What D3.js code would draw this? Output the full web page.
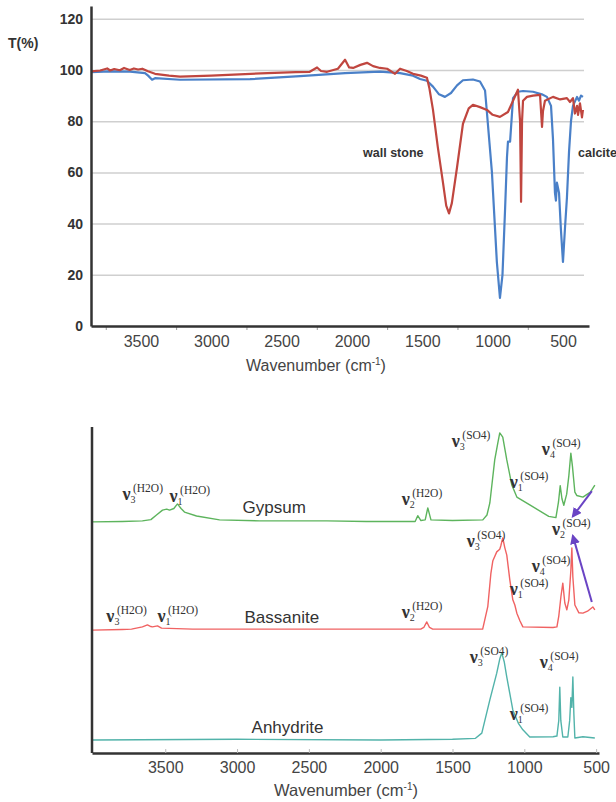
<!DOCTYPE html>
<meta charset="utf-8">
<title>IR spectra</title>
<style>
  body { margin: 0; background: #fff; }
  svg { display: block; font-family: "Liberation Sans", Arial, sans-serif; }
  .grid line { stroke: #cfcfcf; stroke-width: 1.5; }
  .grid .domain { display: none; }
  .ylab text { font-weight: bold; font-size: 14px; fill: #333; }
  .xlab text { font-size: 16px; fill: #444; }
  .axisline { stroke: #333; stroke-width: 2.5; fill: none; }
  .minor line { stroke: #999; stroke-width: 1; }
  .spec { fill: none; stroke-linejoin: round; }
  .nu { font-family: "Liberation Serif", "Times New Roman", serif; fill: #333; }
  .name { font-size: 17px; fill: #333; }
</style>
<body></body>
<script src="https://cdn.jsdelivr.net/npm/d3@7"></script>
<script>
// ---- top chart data (wavenumber cm-1, T %) ----
var blueWn = [3854, 3719, 3577, 3471, 3449, 3421, 3400, 3222, 2724, 2369, 2049, 1801, 1658, 1566, 1516, 1467, 1424, 1381, 1339, 1296, 1253, 1211, 1140, 1090, 1054, 1040, 1005, 985, 970, 948, 930, 912, 898, 891, 876, 855, 820, 784, 713, 650, 614, 585, 571, 557, 550, 543, 528, 515, 500, 486, 472, 457, 443, 429, 400, 386, 372, 358];
var blueT  = [99.2, 99.5, 99.4, 98.8, 97.8, 96.2, 96.8, 96.2, 96.4, 97.6, 98.8, 99.4, 98.8, 97.8, 96.5, 95.8, 93.5, 90.5, 89.5, 91, 94, 96, 96.3, 95.5, 92, 83, 60, 40, 25, 11, 20, 45, 66, 72, 72, 89, 91.5, 91.8, 91.5, 90.5, 89.5, 86, 73, 52, 49, 56, 52, 38, 25, 38, 50, 68, 80, 86, 89.5, 88, 90, 89.5];

var redWn = [3854, 3790, 3740, 3719, 3690, 3650, 3620, 3580, 3550, 3520, 3490, 3450, 3400, 3300, 3222, 3000, 2800, 2600, 2400, 2300, 2248, 2220, 2177, 2100, 2049, 2020, 1992, 1940, 1893, 1850, 1801, 1750, 1694, 1658, 1610, 1566, 1510, 1467, 1450, 1424, 1390, 1353, 1330, 1310, 1290, 1253, 1211, 1170, 1140, 1090, 1040, 1000, 948, 891, 855, 820, 805, 798, 791, 784, 756, 713, 663, 656, 649, 642, 628, 571, 520, 472, 450, 429, 415, 400, 393, 379, 365, 358];
var redT  = [99.5, 99.8, 100.6, 99.8, 100.4, 99.9, 100.8, 100, 100.6, 100.2, 100.5, 99.5, 98.5, 97.8, 97.4, 97.8, 98.3, 98.8, 99.2, 99.3, 101, 99.6, 99.3, 100.5, 104, 101, 100.8, 102, 102.8, 101.5, 100.8, 100.5, 98.5, 100.5, 99.6, 98.5, 97.8, 97, 93, 84.4, 70, 56, 47, 44, 48, 62, 79, 85, 86.4, 85.5, 84.4, 82.5, 81.7, 83.6, 88, 92.3, 80, 48.5, 80, 88, 89.5, 90, 90.3, 84, 77.8, 84, 88, 89.5, 88.5, 89, 87.5, 89, 83, 86, 82.5, 87, 81.5, 84.4];

var topYTicks = [0, 20, 40, 60, 80, 100, 120];
var topXTicks = [3500, 3000, 2500, 2000, 1500, 1000, 500];
var topXMinor = [3750, 3250, 2750, 2250, 1750, 1250, 750];

// ---- bottom chart data (wavenumber, stacked absorbance, arb. units) ----
var gypWn = [4007, 3800, 3659, 3600, 3561, 3519, 3490, 3470, 3440, 3415, 3390, 3366, 3282, 3122, 2843, 2376, 2100, 1800, 1760, 1742, 1720, 1690, 1672, 1650, 1500, 1289, 1260, 1240, 1206, 1185, 1171, 1150, 1122, 1087, 1052, 962, 830, 780, 762, 750, 738, 725, 705, 690, 676, 665, 648, 635, 592, 540, 509];
var gypA  = [70.9, 71.0, 71.2, 71.6, 73, 74.5, 74.8, 74.5, 75, 76.4, 75, 73.9, 72.7, 71.5, 71.2, 71.2, 71.0, 71.0, 71, 72.8, 71.3, 71.5, 75.2, 71.5, 71.3, 71.5, 73, 76.7, 89.9, 95, 98.2, 96.9, 89.9, 82.2, 78.5, 76.1, 72.6, 72.2, 77, 82, 78, 76, 79.4, 85, 92, 88, 80, 79, 78.5, 80, 82.2];

var basWn = [4007, 3800, 3735, 3659, 3624, 3600, 3589, 3554, 3526, 3310, 2500, 1721, 1700, 1679, 1660, 1638, 1290, 1254, 1233, 1219, 1192, 1171, 1164, 1150, 1136, 1122, 1101, 1080, 1066, 1052, 1030, 1010, 800, 773, 760, 745, 732, 718, 704, 690, 676, 669, 662, 648, 620, 592, 560, 523, 509];
var basA  = [37.7, 37.9, 38, 38.7, 39.3, 38.8, 38.7, 39, 38.3, 38, 38, 38, 38.5, 40.2, 38.5, 38, 38, 45, 55, 59, 61.7, 62.5, 63.5, 66, 63, 60.7, 53.1, 47, 45.4, 42.9, 40.5, 38.7, 38.5, 38.7, 42, 48, 52.1, 46, 43.9, 47, 56, 62.9, 54, 45.4, 43, 42.9, 43.5, 44.8, 43.9];

var anhWn = [4007, 3000, 2000, 1500, 1340, 1296, 1240, 1192, 1170, 1157, 1140, 1122, 1080, 1040, 1010, 962, 800, 773, 760, 753, 746, 732, 697, 684, 676, 669, 662, 655, 648, 592, 509];
var anhA  = [4, 4.2, 4.0, 4.2, 4.5, 6.1, 16.3, 24.5, 29, 30.7, 28, 23.3, 13.2, 9, 7.1, 4.9, 5, 5.2, 10, 20.2, 10, 4.9, 4.9, 10, 17, 14, 23.3, 12, 4.6, 5, 4.6];

var botXTicks = [3500, 3000, 2500, 2000, 1500, 1000, 500];

// annotation anchors in data units: [sub, sup, wavenumber, level]
var gypBands = [["3", "(H2O)", 3798, 77.6], ["1", "(H2O)", 3470, 77], ["2", "(H2O)", 1854, 76.1],
                ["3", "(SO4)", 1505, 93.9], ["1", "(SO4)", 1101, 81.3], ["4", "(SO4)", 878, 91.4], ["2", "(SO4)", 808, 66.9]];
var basBands = [["3", "(H2O)", 3910, 40.2], ["1", "(H2O)", 3554, 40.2], ["2", "(H2O)", 1854, 41.4],
                ["3", "(SO4)", 1401, 63.2], ["4", "(SO4)", 948, 55.5], ["1", "(SO4)", 1101, 48.5]];
var anhBands = [["3", "(SO4)", 1380, 27.6], ["4", "(SO4)", 892, 26.1], ["1", "(SO4)", 1101, 10.1]];
var names = [["Gypsum", 2962, 73.6], ["Bassanite", 2948, 39.9], ["Anhydrite", 2899, 6.1]];
// arrows to nu2(SO4): [fromWn, fromA, toWn, toA]
var arrows = [[530, 80.3, 662, 72.6], [530, 46.3, 662, 66.6]];

var svg = d3.select("body").append("svg").attr("width", 616).attr("height", 802);
var fmt = d3.format("d");

// ================= top chart =================
var xTop = d3.scaleLinear().domain([3855, 315]).range([91, 589]);
var yTop = d3.scaleLinear().domain([0, 125]).range([326, 6]);
var gTop = svg.append("g");

gTop.append("g").attr("class", "grid")
  .attr("transform", "translate(91,0)")
  .call(d3.axisLeft(yTop).tickValues([20, 40, 60, 80, 100, 120]).tickSize(-493).tickFormat(""));

gTop.append("g").attr("class", "minor")
  .attr("transform", "translate(0,326)")
  .call(d3.axisBottom(xTop).tickValues(topXMinor).tickSize(4).tickFormat(""))
  .select(".domain").remove();

var lineTop = function(wn, t) {
  return d3.line().x(function(d, i) { return xTop(wn[i]); }).y(function(d) { return yTop(d); })(t);
};
gTop.append("path").attr("class", "spec").attr("d", lineTop(blueWn, blueT))
  .attr("stroke", "#4a80c8").attr("stroke-width", 2.2);
gTop.append("path").attr("class", "spec").attr("d", lineTop(redWn, redT))
  .attr("stroke", "#c0463f").attr("stroke-width", 2.2);

var yAx = gTop.append("g").attr("class", "ylab")
  .attr("transform", "translate(91,0)")
  .call(d3.axisLeft(yTop).tickValues(topYTicks).tickSize(0).tickPadding(8).tickSizeOuter(0));
yAx.select(".domain").attr("class", "axisline");

var xAx = gTop.append("g").attr("class", "xlab")
  .attr("transform", "translate(0,326)")
  .call(d3.axisBottom(xTop).tickValues(topXTicks).tickFormat(fmt).tickSize(0).tickPadding(10).tickSizeOuter(0));
xAx.select(".domain").attr("class", "axisline");

gTop.append("text").attr("x", 8).attr("y", 48).attr("font-weight", "bold").attr("font-size", 14)
  .attr("fill", "#333").text("T(%)");

var xt = gTop.append("text").attr("x", 316).attr("y", 371).attr("text-anchor", "middle")
  .attr("font-size", 16).attr("fill", "#444");
xt.append("tspan").text("Wavenumber (cm");
xt.append("tspan").attr("font-size", 10).attr("dy", -6).text("-1");
xt.append("tspan").attr("dy", 6).text(")");

gTop.append("text").attr("x", xTop(1921)).attr("y", yTop(66)).attr("font-weight", "bold")
  .attr("font-size", 12.5).attr("fill", "#333").text("wall stone");
gTop.append("text").attr("x", xTop(393)).attr("y", yTop(66)).attr("font-weight", "bold")
  .attr("font-size", 12.5).attr("fill", "#333").text("calcite");

// ================= bottom chart =================
var xBot = d3.scaleLinear().domain([4010, 480]).range([92, 599]);
var yBot = d3.scaleLinear().domain([0, 100]).range([753, 427]);
var gBot = svg.append("g");

var lineBot = function(wn, a) {
  return d3.line().x(function(d, i) { return xBot(wn[i]); }).y(function(d) { return yBot(d); })(a);
};
gBot.append("path").attr("class", "spec").attr("d", lineBot(gypWn, gypA))
  .attr("stroke", "#5db45d").attr("stroke-width", 1.4);
gBot.append("path").attr("class", "spec").attr("d", lineBot(basWn, basA))
  .attr("stroke", "#f06262").attr("stroke-width", 1.4);
gBot.append("path").attr("class", "spec").attr("d", lineBot(anhWn, anhA))
  .attr("stroke", "#52b3aa").attr("stroke-width", 1.4);

var bx = gBot.append("g").attr("class", "xlab")
  .attr("transform", "translate(0,753)")
  .call(d3.axisBottom(xBot).tickValues(botXTicks).tickFormat(fmt).tickSize(-4).tickPadding(9).tickSizeOuter(0));
bx.selectAll(".tick line").attr("stroke", "#bbb");
bx.selectAll(".tick text").attr("font-size", 16.5);
bx.select(".domain").attr("class", "axisline").attr("stroke-width", 3);

gBot.append("line").attr("class", "axisline")
  .attr("x1", 92).attr("x2", 92).attr("y1", yBot(100)).attr("y2", yBot(0));

var bt = gBot.append("text").attr("x", 346).attr("y", 796).attr("text-anchor", "middle")
  .attr("font-size", 16.5).attr("fill", "#444");
bt.append("tspan").text("Wavenumber (cm");
bt.append("tspan").attr("font-size", 10).attr("dy", -6).text("-1");
bt.append("tspan").attr("dy", 6).text(")");

function nu(b) {
  var t = gBot.append("text").attr("class", "nu").attr("x", xBot(b[2])).attr("y", yBot(b[3]));
  t.append("tspan").attr("font-size", 18).attr("font-weight", "bold").text("ν");
  t.append("tspan").attr("font-size", 10).attr("dy", 3).text(b[0]);
  t.append("tspan").attr("font-size", 11.5).attr("dx", -2.5).attr("dy", -11).text(b[1]);
}
gypBands.concat(basBands, anhBands).forEach(nu);

names.forEach(function(n) {
  gBot.append("text").attr("class", "name").attr("x", xBot(n[1])).attr("y", yBot(n[2])).text(n[0]);
});

svg.append("defs").append("marker").attr("id", "ah")
  .attr("viewBox", "0 0 10 10").attr("refX", 8).attr("refY", 5)
  .attr("markerWidth", 5).attr("markerHeight", 5).attr("orient", "auto")
  .append("path").attr("d", "M0,0L10,5L0,10z").attr("fill", "#6a44c4");

arrows.forEach(function(a) {
  gBot.append("line").attr("x1", xBot(a[0])).attr("y1", yBot(a[1]))
    .attr("x2", xBot(a[2])).attr("y2", yBot(a[3]))
    .attr("stroke", "#6a44c4").attr("stroke-width", 2).attr("marker-end", "url(#ah)");
});
</script>
